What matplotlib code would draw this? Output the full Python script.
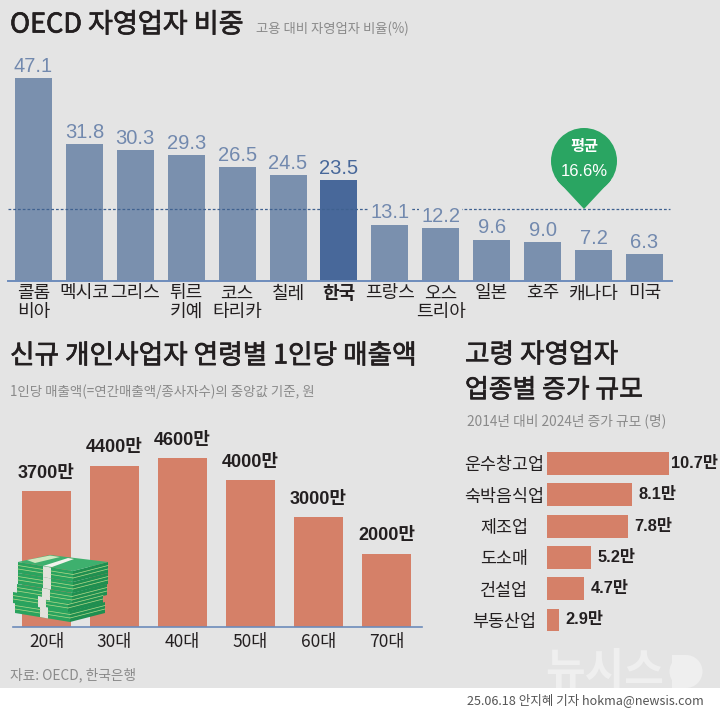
import matplotlib
matplotlib.use('Agg')
import matplotlib.pyplot as plt
import matplotlib.patheffects as pe
from matplotlib.patches import Circle, Polygon, Rectangle

plt.rcParams['font.family'] = ['Noto Sans CJK KR', 'DejaVu Sans']

W, H = 720, 713
NUM_FONT = ['Liberation Sans', 'Noto Sans CJK KR']

# 데이터
countries = ['콜롬\n비아', '멕시코', '그리스', '튀르\n키예', '코스\n타리카', '칠레', '한국',
             '프랑스', '오스\n트리아', '일본', '호주', '캐나다', '미국']
shares = [47.1, 31.8, 30.3, 29.3, 26.5, 24.5, 23.5, 13.1, 12.2, 9.6, 9.0, 7.2, 6.3]
share_mean = 16.6
ages = ['20대', '30대', '40대', '50대', '60대', '70대']
sales = [3700, 4400, 4600, 4000, 3000, 2000]
sectors = ['운수창고업', '숙박음식업', '제조업', '도소매', '건설업', '부동산업']
growth = [10.7, 8.1, 7.8, 5.2, 4.7, 2.9]

BG = '#e4e4e4'
BLUE = '#7a90ae'
BLUE_KR = '#48689a'
BLUE_TXT = '#7289ae'
ORANGE = '#d58068'
AXIS = '#6d8cbb'
DARK = '#231f20'
GRAY = '#8a8a8a'
THICK = [pe.withStroke(linewidth=0.5, foreground=DARK)]


def px_axes(x0, y0, x1, y1):
    # 픽셀 좌표로 axes 위치 지정
    ax = fig.add_axes([x0 / W, 1 - y1 / H, (x1 - x0) / W, (y1 - y0) / H])
    ax.patch.set_alpha(0)
    for s in ['top', 'right', 'left', 'bottom']:
        ax.spines[s].set_visible(False)
    ax.tick_params(length=0)
    return ax


fig = plt.figure(figsize=(W / 100, H / 100), dpi=100, facecolor='white')

# 배경
bg = fig.add_axes([0, 0, 1, 1], zorder=0)
bg.set_xlim(0, W)
bg.set_ylim(H, 0)
bg.axis('off')
bg.add_patch(Rectangle((0, 0), W, 688, color=BG, lw=0))

# OECD 자영업자 비중
ax1 = px_axes(8, 60, 672, 281)
ax1.set_zorder(2)
colors1 = [BLUE_KR if c == '한국' else BLUE for c in countries]
x1 = list(range(len(countries)))
ax1.bar(x1, shares, width=0.727, color=colors1, zorder=2)
ax1.axhline(share_mean, color='#3f6190', lw=0.9, ls=(0, (2.2, 1.6)), xmax=0.997, zorder=3)
ax1.set_xlim(-0.50, 12.54)
ax1.set_ylim(0, 51.3)
ax1.set_yticks([])
ax1.spines['bottom'].set_visible(True)
ax1.spines['bottom'].set_color(AXIS)
ax1.spines['bottom'].set_linewidth(1.4)
ax1.set_xticks(x1)
ax1.set_xticklabels(countries, fontsize=13, color=DARK, linespacing=1.05)
ax1.tick_params(axis='x', pad=2.5)
for lab, c in zip(ax1.get_xticklabels(), countries):
    if c == '한국':
        lab.set_fontweight('bold')
for i, v in enumerate(shares):
    ax1.annotate(f'{v:.1f}', (i, v), xytext=(0, 4.5), textcoords='offset points', ha='center', va='baseline',
                 fontsize=14.5, family=NUM_FONT, color=BLUE_KR if countries[i] == '한국' else BLUE_TXT, zorder=4,
                 bbox=dict(fc=BG, ec='none', pad=1.5) if v < share_mean else None)

# 신규 개인사업자 매출액
ax2 = px_axes(13, 430, 422, 627)
ax2.set_zorder(2)
x2 = list(range(len(ages)))
ax2.bar(x2, sales, width=0.72, color=ORANGE)
ax2.set_xlim(-0.493, 5.52)
ax2.set_ylim(0, 5368)
ax2.set_yticks([])
ax2.spines['bottom'].set_visible(True)
ax2.spines['bottom'].set_color(AXIS)
ax2.spines['bottom'].set_linewidth(1.2)
ax2.set_xticks(x2)
ax2.set_xticklabels(ages, fontsize=12.5, color=DARK)
ax2.tick_params(axis='x', pad=4.5)
for i, v in enumerate(sales):
    ax2.annotate(f'{v}만', (i, v), xytext=(0, 9.5), textcoords='offset points', ha='center', va='baseline',
                 fontsize=13, family=NUM_FONT, fontweight='bold', color=DARK)

# 고령 자영업자 증가 규모 (원본 막대는 0에서 시작하지 않음)
ax3 = px_axes(547, 445, 700, 640)
ax3.set_zorder(2)
y3 = list(range(len(sectors)))
ax3.barh(y3, growth, height=0.73, color=ORANGE)
ax3.set_xlim(2.05, 12.9)
ax3.set_ylim(5.64, -0.591)
ax3.set_xticks([])
ax3.set_yticks(y3)
ax3.set_yticklabels(sectors, fontsize=12.5, color=DARK, ha='center')
ax3.tick_params(axis='y', pad=31)
for i, v in enumerate(growth):
    ax3.annotate(f'{v}만', (v, i), xytext=(1.5 if v > 10 else 4.5, 0), textcoords='offset points', ha='left',
                 va='center', fontsize=11.8, family=NUM_FONT, fontweight='bold', color=DARK, annotation_clip=False)

# 글자와 장식
top = fig.add_axes([0, 0, 1, 1], zorder=5)
top.set_xlim(0, W)
top.set_ylim(H, 0)
top.axis('off')

top.text(10, 25, 'OECD 자영업자 비중', fontsize=19.5, color=DARK, va='center', path_effects=THICK)
top.text(256, 29, '고용 대비 자영업자 비율(%)', fontsize=9.6, color=GRAY, va='center')
top.text(10, 356, '신규 개인사업자 연령별 1인당 매출액', fontsize=19.2, color=DARK, va='center', path_effects=THICK)
top.text(10, 392, '1인당 매출액(=연간매출액/종사자수)의 중앙값 기준, 원', fontsize=9.7, color=GRAY, va='center')
top.text(465, 355, '고령 자영업자', fontsize=19.2, color=DARK, va='center', path_effects=THICK)
top.text(465, 390, '업종별 증가 규모', fontsize=18.6, color=DARK, va='center', path_effects=THICK)
top.text(467, 421, '2014년 대비 2024년 증가 규모 (명)', fontsize=9.9, color=GRAY, va='center')
top.text(10, 675, '자료: OECD, 한국은행', fontsize=9.9, color=GRAY, va='center')
top.text(467, 700, '25.06.18 안지혜 기자 hokma@newsis.com', fontsize=9.05, color='#555555', va='center')

# 평균 말풍선
GREEN = '#2aa562'
top.add_patch(Circle((584, 161), 33, color=GREEN, lw=0))
top.add_patch(Polygon([(557, 180), (584, 209), (611, 180)], closed=True, color=GREEN, lw=0))
top.text(584, 146, '평균', fontsize=11, color='white', ha='center', va='center', fontweight='bold')
top.text(584, 171, '16.6%', fontsize=12, family=NUM_FONT, color='white', ha='center', va='center')

# 뉴시스 워터마크
MARK = '#efefef'
top.text(605, 671, '뉴시스', fontsize=31, color=MARK, ha='center', va='center', fontweight='bold', zorder=1)
top.add_patch(Rectangle((672, 655), 14, 33, color=MARK, lw=0, zorder=1))
top.add_patch(Circle((686, 671.5), 16.5, color=MARK, lw=0, zorder=1))

# 돈다발 그림
for x0, y0 in [(15, 602), (13, 592), (17, 584), (18, 573), (18, 562)]:
    h = 11
    top.add_patch(Polygon([(x0, y0), (x0 + 55, y0 + 9), (x0 + 55, y0 + 9 + h), (x0, y0 + h)],
                          closed=True, color='#2aa35e', lw=0, zorder=3))
    top.add_patch(Polygon([(x0 + 55, y0 + 9), (x0 + 90, y0), (x0 + 90, y0 + h), (x0 + 55, y0 + 9 + h)],
                          closed=True, color='#1f8f50', lw=0, zorder=3))
    top.add_patch(Polygon([(x0 + 25, y0 + 4), (x0 + 33, y0 + 5.5), (x0 + 33, y0 + 5.5 + h), (x0 + 25, y0 + 4 + h)],
                          closed=True, color='#e2e2dc', lw=0, zorder=4))
    for k in [3.5, 7]:
        top.plot([x0, x0 + 25], [y0 + k, y0 + 4 + k], color='#b5d98a', lw=0.5, zorder=4)
        top.plot([x0 + 33, x0 + 55], [y0 + 5.5 + k, y0 + 9 + k], color='#b5d98a', lw=0.5, zorder=4)
        top.plot([x0 + 55, x0 + 90], [y0 + 9 + k, y0 + k], color='#b5d98a', lw=0.5, zorder=4)
top.add_patch(Polygon([(18, 562), (50, 555), (108, 562), (73, 571)], closed=True, color='#3eb06e', lw=0, zorder=4))
top.add_patch(Polygon([(27, 560), (50, 555.5), (60, 557), (35, 563)], closed=True, color='#cfe8c0', lw=0, zorder=5))
top.add_patch(Polygon([(43, 566), (68, 558), (74, 559), (52, 567)], closed=True, color='#f2f2ec', lw=0, zorder=5))

fig.savefig('out.png', dpi=100, facecolor='white')
